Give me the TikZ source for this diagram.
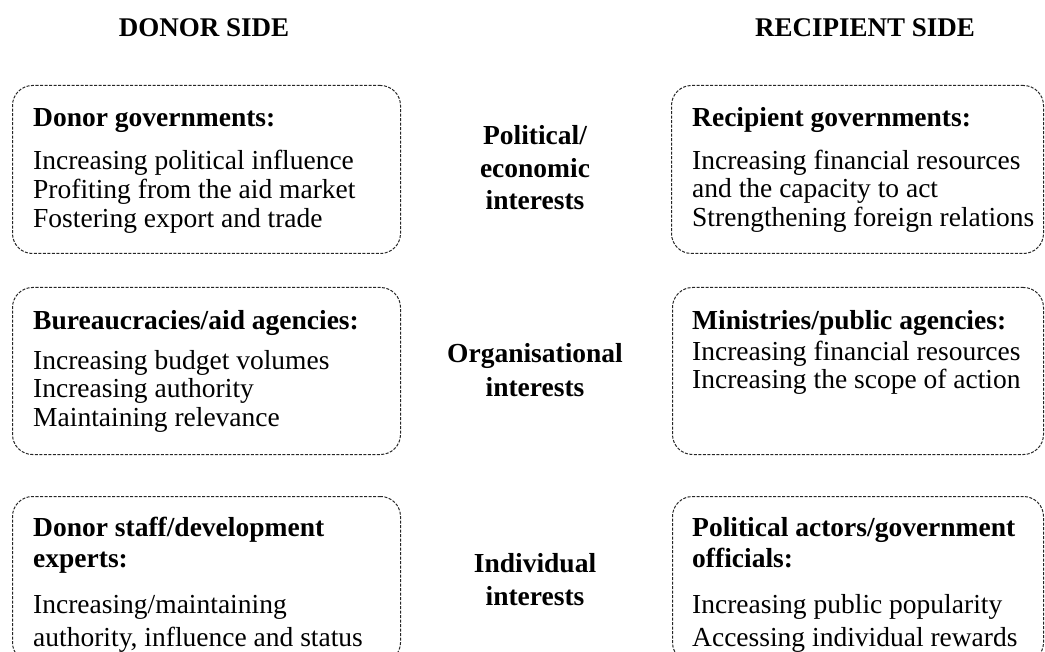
\documentclass[tikz,border=0pt]{standalone}
\usepackage{fontspec}
\setmainfont{Liberation Serif}
\begin{document}
\begin{tikzpicture}[x=1pt,y=-1pt,
  framebox/.style={draw=black!85, line width=1pt, dash pattern=on 3pt off 1.5pt,
    rounded corners=20pt, anchor=north west, inner sep=0pt},
  head/.style={anchor=base west, inner sep=0pt, font=\fontsize{27.5}{29}\selectfont\bfseries},
  item/.style={anchor=base west, inner sep=0pt, font=\fontsize{27.5}{29}\selectfont},
  mid/.style={anchor=base, inner sep=0pt, font=\fontsize{27.5}{29}\selectfont\bfseries},
  side/.style={anchor=base, inner sep=0pt, font=\fontsize{27}{29}\selectfont\bfseries}]
\useasboundingbox (0,0) rectangle (1045,652);

% column titles
\node[side] (donor) at (204,37) {DONOR SIDE};
\node[side] (recip) at (865,37) {RECIPIENT SIDE};

% dashed frames
\node[framebox, minimum width=388pt, minimum height=168pt] (bLT) at (12,85) {};
\node[framebox, minimum width=372pt, minimum height=168pt] (bRT) at (671,85) {};
\node[framebox, minimum width=388pt, minimum height=167pt] (bLM) at (12,287) {};
\node[framebox, minimum width=371pt, minimum height=167pt] (bRM) at (672,287) {};
\node[framebox, minimum width=388pt, minimum height=166pt] (bLB) at (12,496) {};
\node[framebox, minimum width=371pt, minimum height=166pt] (bRB) at (672,496) {};

% donor governments
\node[head] (lt0) at (33,127) {Donor governments:};
\node[item] (lt1) at (33,170) {Increasing political influence};
\node[item] (lt2) at (33,199) {Profiting from the aid market};
\node[item] (lt3) at (33,228) {Fostering export and trade};

% recipient governments
\node[head] (rt0) at (692,127) {Recipient governments:};
\node[item] (rt1) at (692,170) {Increasing financial resources};
\node[item] (rt2) at (692,198) {and the capacity to act};
\node[item] (rt3) at (692,227) {Strengthening foreign relations};

% bureaucracies
\node[head] (lm0) at (33,330) {Bureaucracies/aid agencies:};
\node[item] (lm1) at (33,370) {Increasing budget volumes};
\node[item] (lm2) at (33,398) {Increasing authority};
\node[item] (lm3) at (33,427) {Maintaining relevance};

% ministries
\node[head] (rm0) at (692,330) {Ministries/public agencies:};
\node[item] (rm1) at (692,361) {Increasing financial resources};
\node[item] (rm2) at (692,389) {Increasing the scope of action};

% donor staff
\node[head] (lb0) at (33,536) {Donor staff/development};
\node[head] (lb1) at (33,567) {experts:};
\node[item] (lb2) at (33,613) {Increasing/maintaining};
\node[item] (lb3) at (33,646) {authority, influence and status};

% political actors
\node[head] (rb0) at (692,536) {Political actors/government};
\node[head] (rb1) at (692,567) {officials:};
\node[item] (rb2) at (692,613) {Increasing public popularity};
\node[item] (rb3) at (692,646) {Accessing individual rewards};

% interest levels
\node[mid] (m1a) at (535,145) {Political/};
\node[mid] (m1b) at (535,178) {economic};
\node[mid] (m1c) at (535,210) {interests};
\node[mid] (m2a) at (535,363) {Organisational};
\node[mid] (m2b) at (535,397) {interests};
\node[mid] (m3a) at (535,572) {Individual};
\node[mid] (m3b) at (535,605) {interests};
\end{tikzpicture}
\end{document}
